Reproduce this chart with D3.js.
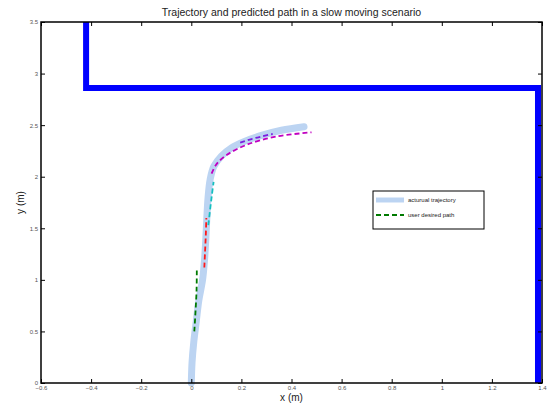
<!DOCTYPE html>
<html>
<head>
<meta charset="utf-8">
<script src="https://cdn.jsdelivr.net/npm/d3@7"></script>
<style>
  body { margin: 0; background: #fff; }
  svg { font-family: "Liberation Sans", Arial, sans-serif; }
</style>
</head>
<body>
<svg width="548" height="404"></svg>
<script>
// walls of the room (x, y in m)
const wallLeft = [[-0.42, 3.5], [-0.42, 2.86], [1.384, 2.86], [1.384, 0]];

// actual trajectory
const trajX = [0.0, 0.003, 0.01, 0.02, 0.03, 0.045, 0.053, 0.058, 0.062, 0.067, 0.075, 0.09, 0.12, 0.16, 0.21, 0.28, 0.36, 0.45];
const trajY = [0.0, 0.2, 0.4, 0.6, 0.8, 1.0, 1.2, 1.4, 1.6, 1.8, 1.97, 2.1, 2.2, 2.28, 2.34, 2.4, 2.45, 2.485];

// predicted paths (dashed)
const greenX = [0.012, 0.017, 0.021, 0.022];
const greenY = [0.5, 0.7, 0.9, 1.09];
const redX = [0.052, 0.055, 0.058, 0.06];
const redY = [1.12, 1.28, 1.44, 1.6];
const cyanX = [0.068, 0.075, 0.082, 0.089];
const cyanY = [1.53, 1.68, 1.82, 1.95];
const magX = [0.081, 0.1, 0.141, 0.221, 0.341, 0.48];
const magY = [2.03, 2.12, 2.21, 2.31, 2.39, 2.43];
const purpX = [0.195, 0.24, 0.28, 0.325];
const purpY = [2.33, 2.365, 2.39, 2.415];

const xTicks = [-0.6, -0.4, -0.2, 0, 0.2, 0.4, 0.6, 0.8, 1, 1.2, 1.4];
const yTicks = [0, 0.5, 1, 1.5, 2, 2.5, 3, 3.5];

const svg = d3.select("svg");
const pl = 41, pr = 542, pt = 22, pb = 383;

const x = d3.scaleLinear().domain([-0.6, 1.4]).range([pl, pr]);
const y = d3.scaleLinear().domain([0, 3.5]).range([pb, pt]);

const line = d3.line().x(d => x(d[0])).y(d => y(d[1]));
const curve = d3.line().x(d => x(d[0])).y(d => y(d[1])).curve(d3.curveCatmullRom);
const zip = (a, b) => a.map((v, i) => [v, b[i]]);

// walls
svg.append("path")
  .attr("d", line(wallLeft))
  .attr("fill", "none")
  .attr("stroke", "#0000ff")
  .attr("stroke-width", 6);

// trajectory
svg.append("path")
  .attr("d", curve(zip(trajX, trajY)))
  .attr("fill", "none")
  .attr("stroke", "#bcd4f2")
  .attr("stroke-width", 7)
  .attr("stroke-linecap", "round")
  .attr("stroke-linejoin", "round");

const dashed = [
  {xs: greenX, ys: greenY, c: "#007a00"},
  {xs: redX, ys: redY, c: "#ff1a1a"},
  {xs: cyanX, ys: cyanY, c: "#14bfbf"},
  {xs: magX, ys: magY, c: "#c000c0"},
  {xs: purpX, ys: purpY, c: "#7a1fe0"}
];
dashed.forEach(d => {
  svg.append("path")
    .attr("d", curve(zip(d.xs, d.ys)))
    .attr("fill", "none")
    .attr("stroke", d.c)
    .attr("stroke-width", 1.8)
    .attr("stroke-dasharray", "5,3");
});

// axes
const tickStyle = g => {
  g.select(".domain").remove();
  g.selectAll("line").attr("stroke", "#000").attr("stroke-width", 1);
  g.selectAll("text").attr("font-size", 6).attr("fill", "#555");
};
svg.append("g").attr("transform", `translate(0,${pb})`)
  .call(d3.axisBottom(x).tickValues(xTicks).tickSizeInner(-4).tickSizeOuter(0).tickPadding(3).tickFormat(d3.format("")))
  .call(tickStyle);
svg.append("g").attr("transform", `translate(0,${pt})`)
  .call(d3.axisTop(x).tickValues(xTicks).tickSizeInner(-4).tickSizeOuter(0).tickFormat(""))
  .call(tickStyle);
svg.append("g").attr("transform", `translate(${pl},0)`)
  .call(d3.axisLeft(y).tickValues(yTicks).tickSizeInner(-4).tickSizeOuter(0).tickPadding(3).tickFormat(d3.format("")))
  .call(tickStyle);
svg.append("g").attr("transform", `translate(${pr},0)`)
  .call(d3.axisRight(y).tickValues(yTicks).tickSizeInner(-4).tickSizeOuter(0).tickFormat(""))
  .call(tickStyle);

svg.append("rect")
  .attr("x", pl).attr("y", pt)
  .attr("width", pr - pl).attr("height", pb - pt)
  .attr("fill", "none").attr("stroke", "#000").attr("stroke-width", 1.5);

// title and labels
svg.append("text")
  .text("Trajectory and predicted path in a slow moving scenario")
  .attr("x", (pl + pr) / 2).attr("y", 16)
  .attr("text-anchor", "middle").attr("font-size", 10.5).attr("fill", "#222");
svg.append("text")
  .text("x (m)")
  .attr("x", (pl + pr) / 2).attr("y", 401)
  .attr("text-anchor", "middle").attr("font-size", 10).attr("fill", "#222");
svg.append("text")
  .text("y (m)")
  .attr("transform", `translate(24,${(pt + pb) / 2}) rotate(-90)`)
  .attr("text-anchor", "middle").attr("font-size", 10).attr("fill", "#222");

// legend
const lg = svg.append("g").attr("transform", "translate(373,191)");
lg.append("rect").attr("width", 111).attr("height", 38)
  .attr("fill", "#fff").attr("stroke", "#000").attr("stroke-width", 1);
lg.append("line").attr("x1", 3).attr("x2", 31).attr("y1", 9).attr("y2", 9)
  .attr("stroke", "#bcd4f2").attr("stroke-width", 5);
lg.append("line").attr("x1", 3).attr("x2", 31).attr("y1", 24).attr("y2", 24)
  .attr("stroke", "#007a00").attr("stroke-width", 1.8).attr("stroke-dasharray", "5,3");
lg.append("text").text("acturual trajectory").attr("x", 35).attr("y", 11)
  .attr("font-size", 6).attr("fill", "#222");
lg.append("text").text("user desired path").attr("x", 35).attr("y", 26)
  .attr("font-size", 6).attr("fill", "#222");
</script>
</body>
</html>
